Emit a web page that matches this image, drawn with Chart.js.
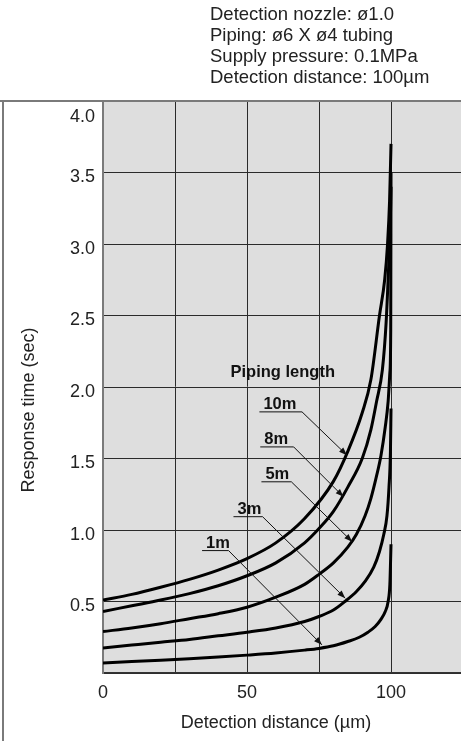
<!DOCTYPE html>
<html>
<head>
<meta charset="utf-8">
<script src="https://cdn.jsdelivr.net/npm/chart.js@4.4.1/dist/chart.umd.min.js"></script>
<style>
  html, body { margin: 0; padding: 0; background: #fff; overflow: hidden; }
</style>
</head>
<body>
<canvas id="chart" width="461" height="741"></canvas>
<script>
// response time vs detection distance, one curve per piping length
const pipingLengths = ['10m', '8m', '5m', '3m', '1m'];

const dist10m = [0, 10, 20, 30, 40, 50, 60, 70, 80, 85, 90, 93, 96, 97.8, 98.8, 99.5, 100];
const time10m = [0.51, 0.55, 0.60, 0.655, 0.72, 0.80, 0.91, 1.08, 1.34, 1.55, 1.82, 2.05, 2.5, 2.75, 3.0, 3.3, 3.7];

const dist8m = [0, 10, 20, 30, 40, 50, 60, 70, 75, 80, 85, 90, 93, 95, 97, 98.3, 99.2, 99.7, 100];
const time8m = [0.43, 0.47, 0.51, 0.555, 0.61, 0.68, 0.77, 0.91, 1.01, 1.13, 1.30, 1.50, 1.70, 1.90, 2.12, 2.45, 2.85, 3.1, 3.4];

const dist5m = [0, 10, 20, 30, 40, 50, 60, 70, 75, 80, 85, 88, 91, 93, 95, 96.5, 98, 99, 99.6, 99.9, 100];
const time5m = [0.29, 0.315, 0.345, 0.38, 0.415, 0.46, 0.53, 0.62, 0.69, 0.77, 0.88, 0.97, 1.1, 1.22, 1.38, 1.52, 1.72, 1.9, 2.1, 2.4, 3.5];

const dist3m = [0, 10, 20, 30, 40, 50, 60, 70, 75, 80, 84, 88, 91, 94, 96, 97.5, 98.6, 99.3, 99.8, 100];
const time3m = [0.175, 0.195, 0.215, 0.235, 0.26, 0.285, 0.315, 0.36, 0.395, 0.44, 0.50, 0.57, 0.64, 0.74, 0.85, 0.97, 1.1, 1.3, 1.55, 1.85];

const dist1m = [0, 10, 20, 30, 40, 50, 60, 70, 75, 80, 85, 89, 92, 94.5, 96.5, 98, 99, 99.6, 100];
const time1m = [0.07, 0.08, 0.09, 0.10, 0.112, 0.125, 0.14, 0.16, 0.172, 0.19, 0.22, 0.25, 0.285, 0.325, 0.375, 0.43, 0.5, 0.62, 0.9];

const xTicks = [0, 25, 50, 75, 100];
const xLabelled = [0, 50, 100];
const yTicks = [0, 0.5, 1.0, 1.5, 2.0, 2.5, 3.0, 3.5, 4.0];

const headerLines = [
    'Detection nozzle: ø1.0',
    'Piping: ø6 X ø4 tubing',
    'Supply pressure: 0.1MPa',
    'Detection distance: 100µm'
];
const xTitle = 'Detection distance (µm)';
const yTitle = 'Response time (sec)';
const legendTitle = 'Piping length';

// callouts in data units: underline start/end, height, arrow tip
const callouts = [
    { x0: 54.3, x1: 69.1, y: 1.826, tipX: 84.7, tipY: 1.523 },
    { x0: 54.6, x1: 66.2, y: 1.581, tipX: 83.5, tipY: 1.232 },
    { x0: 55.0, x1: 65.4, y: 1.337, tipX: 86.5, tipY: 0.918 },
    { x0: 45.3, x1: 55.4, y: 1.093, tipX: 84.1, tipY: 0.523 },
    { x0: 34.4, x1: 43.6, y: 0.856, tipX: 76.0, tipY: 0.197 }
];

const FONT = '"Liberation Sans", Arial, sans-serif';

const toPoints = (xs, ys) => xs.map((x, i) => ({ x: x, y: ys[i] }));
const seriesData = [
    toPoints(dist10m, time10m),
    toPoints(dist8m, time8m),
    toPoints(dist5m, time5m),
    toPoints(dist3m, time3m),
    toPoints(dist1m, time1m)
];

const decor = {
    id: 'decor',
    beforeDraw(chart) {
        const { ctx, chartArea: a } = chart;
        ctx.save();
        ctx.fillStyle = '#dedede';
        ctx.fillRect(a.left, a.top, a.right - a.left, a.bottom - a.top);
        ctx.restore();
    },
    afterDraw(chart) {
        const { ctx, chartArea: a, scales } = chart;
        const sx = v => scales.x.getPixelForValue(v);
        const sy = v => scales.y.getPixelForValue(v);
        ctx.save();

        // outer frame
        ctx.strokeStyle = '#7a7a7a';
        ctx.lineWidth = 2;
        ctx.beginPath();
        ctx.moveTo(0, a.top);
        ctx.lineTo(chart.width, a.top);
        ctx.moveTo(3, a.top);
        ctx.lineTo(3, chart.height);
        ctx.stroke();

        // header block
        ctx.fillStyle = '#222';
        ctx.font = '18.5px ' + FONT;
        ctx.textAlign = 'left';
        ctx.textBaseline = 'alphabetic';
        headerLines.forEach((t, i) => ctx.fillText(t, 210, 20 + i * 21));

        // axis titles
        ctx.font = '18px ' + FONT;
        ctx.textAlign = 'center';
        ctx.textBaseline = 'middle';
        ctx.fillText(xTitle, 276, 723);
        ctx.save();
        ctx.translate(29, 410);
        ctx.rotate(-Math.PI / 2);
        ctx.fillText(yTitle, 0, 0);
        ctx.restore();

        // callouts
        ctx.fillStyle = '#111';
        ctx.font = 'bold 16.5px ' + FONT;
        ctx.fillText(legendTitle, sx(62.4), sy(2.10));
        ctx.textAlign = 'left';
        ctx.textBaseline = 'alphabetic';
        ctx.strokeStyle = '#111';
        ctx.lineWidth = 1;
        callouts.forEach((c, i) => {
            const x0 = sx(c.x0), x1 = sx(c.x1), y = sy(c.y);
            const tx = sx(c.tipX), ty = sy(c.tipY);
            ctx.fillText(pipingLengths[i], x0 + 4, y - 3);
            ctx.beginPath();
            ctx.moveTo(x0, y);
            ctx.lineTo(x1, y);
            ctx.lineTo(tx, ty);
            ctx.stroke();
            // arrow head
            const ang = Math.atan2(ty - y, tx - x1);
            const len = 8, half = 3;
            ctx.beginPath();
            ctx.moveTo(tx, ty);
            ctx.lineTo(tx - len * Math.cos(ang) + half * Math.sin(ang), ty - len * Math.sin(ang) - half * Math.cos(ang));
            ctx.lineTo(tx - len * Math.cos(ang) - half * Math.sin(ang), ty - len * Math.sin(ang) + half * Math.cos(ang));
            ctx.closePath();
            ctx.fill();
        });
        ctx.restore();
    }
};

new Chart(document.getElementById('chart').getContext('2d'), {
    type: 'line',
    data: {
        datasets: seriesData.map((pts, i) => ({
            label: pipingLengths[i],
            data: pts,
            borderColor: '#000',
            borderWidth: 3,
            pointRadius: 0,
            fill: false,
            cubicInterpolationMode: 'monotone'
        }))
    },
    options: {
        responsive: false,
        animation: false,
        devicePixelRatio: 1,
        layout: { padding: { top: 101, left: 0, right: 0, bottom: 0 } },
        plugins: {
            legend: { display: false },
            title: { display: false },
            tooltip: { enabled: false }
        },
        scales: {
            x: {
                type: 'linear',
                min: 0,
                max: 124.3,
                afterBuildTicks: s => { s.ticks = xTicks.map(v => ({ value: v })); },
                afterFit: s => { s.height = 68; },
                grid: { color: '#2a2a2a', lineWidth: 1, drawTicks: false },
                border: { color: '#333', width: 1.5 },
                ticks: {
                    autoSkip: false,
                    maxRotation: 0,
                    padding: 9,
                    color: '#222',
                    font: { family: FONT, size: 18 },
                    callback: v => xLabelled.includes(v) ? String(v) : ''
                }
            },
            y: {
                type: 'linear',
                min: 0,
                max: 4,
                afterBuildTicks: s => { s.ticks = yTicks.map(v => ({ value: v })); },
                afterFit: s => { s.width = 103; },
                grid: { color: '#2a2a2a', lineWidth: 1, drawTicks: false },
                border: { color: '#7a7a7a', width: 2 },
                ticks: {
                    autoSkip: false,
                    padding: 8,
                    color: '#222',
                    font: { family: FONT, size: 18 },
                    labelOffset: 5,
                    // top label sits inside the frame, one half line lower
                    callback: v => v === 0 ? '' : (v === 4 ? ['', v.toFixed(1)] : v.toFixed(1))
                }
            }
        }
    },
    plugins: [decor]
});
</script>
</body>
</html>
